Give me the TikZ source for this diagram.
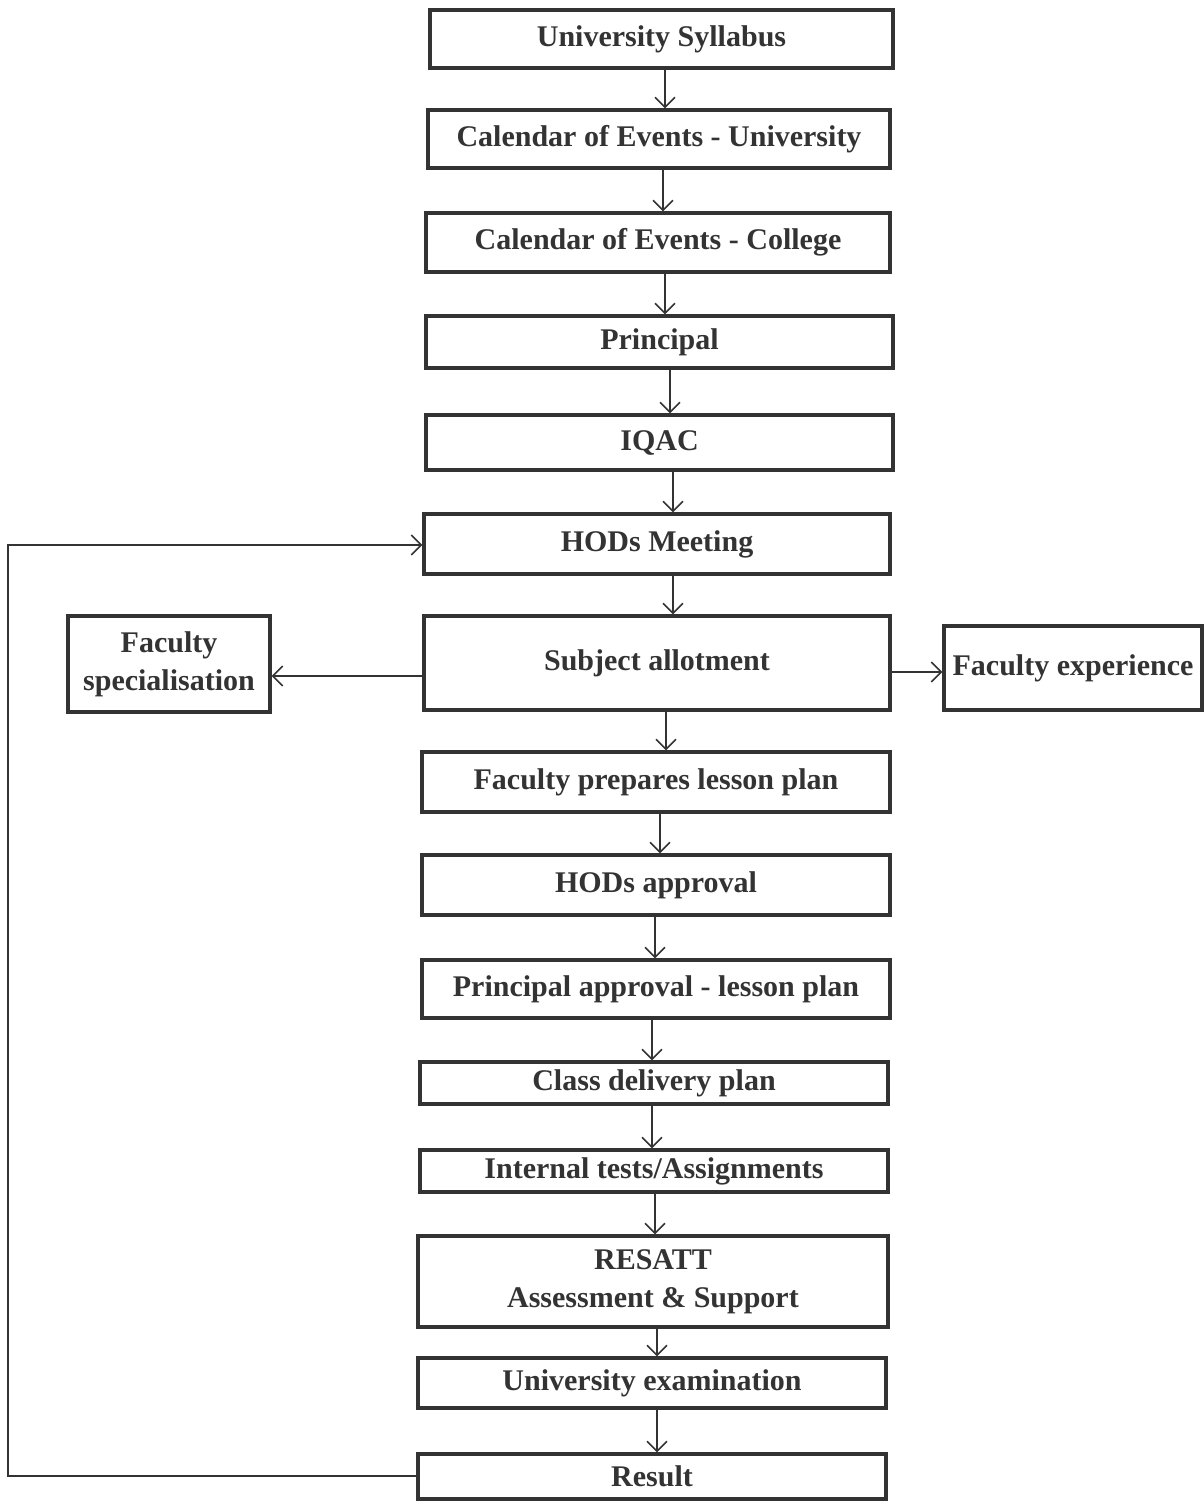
\documentclass[tikz,border=0pt]{standalone}
\usepackage{fontspec}
\setmainfont{Liberation Serif}
\usetikzlibrary{arrows.meta}
\definecolor{ink}{HTML}{333333}
\begin{document}
\begin{tikzpicture}[x=1pt,y=-1pt,
  box/.style={draw=ink, line width=3.2pt, text=ink, font=\fontsize{30}{38}\selectfont\bfseries, align=center, inner sep=0pt},
  arr/.style={draw=ink, line width=2pt, -{Straight Barb[length=10pt,width=20pt,line width=1.6pt]}}]
\useasboundingbox (0,0) rectangle (1204,1501);
\fill[white] (0,0) rectangle (1204,1501);
\node[box, minimum width=463pt, minimum height=58pt] (us) at (661.5,39) {University Syllabus};
\node[box, minimum width=462pt, minimum height=58pt] (ceu) at (659,139) {Calendar of Events - University};
\node[box, minimum width=464pt, minimum height=59pt] (cec) at (658,242.5) {Calendar of Events - College};
\node[box, minimum width=467pt, minimum height=52pt] (pr) at (659.5,342) {Principal};
\node[box, minimum width=467pt, minimum height=55pt] (iqac) at (659.5,442.5) {IQAC};
\node[box, minimum width=466pt, minimum height=60pt] (hod) at (657,544) {HODs Meeting};
\node[box, minimum width=466pt, minimum height=94pt] (sa) at (657,663) {Subject allotment};
\node[box, minimum width=202pt, minimum height=96pt] (fs) at (169,664) {Faculty\\specialisation};
\node[box, minimum width=258pt, minimum height=84pt] (fe) at (1073,668) {Faculty experience};
\node[box, minimum width=468pt, minimum height=60pt] (flp) at (656,782) {Faculty prepares lesson plan};
\node[box, minimum width=468pt, minimum height=60pt] (hoda) at (656,885) {HODs approval};
\node[box, minimum width=468pt, minimum height=58pt] (pa) at (656,989) {Principal approval - lesson plan};
\node[box, minimum width=468pt, minimum height=42pt] (cdp) at (654,1083) {Class delivery plan};
\node[box, minimum width=468pt, minimum height=42pt] (it) at (654,1171) {Internal tests/Assignments};
\node[box, minimum width=470pt, minimum height=91pt] (res) at (653,1281.5) {RESATT\\Assessment \& Support};
\node[box, minimum width=468pt, minimum height=50pt] (ue) at (652,1383) {University examination};
\node[box, minimum width=468pt, minimum height=45pt] (rs) at (652,1476.5) {Result};
\foreach \a/\b/\xx in {us/ceu/665, ceu/cec/663, cec/pr/665, pr/iqac/670, iqac/hod/673, hod/sa/673, sa/flp/666, flp/hoda/660, hoda/pa/655, pa/cdp/652, cdp/it/652, it/res/655, res/ue/657, ue/rs/657}
  \draw[arr] (\a.south -| \xx,0) -- (\b.north -| \xx,0);
\draw[arr] (sa.west |- 0,676) -- (fs.east |- 0,676);
\draw[arr] (sa.east |- 0,672) -- (fe.west |- 0,672);
\coordinate (lb) at (8,1476);
\coordinate (lt) at (8,545);
\draw[arr] (rs.west |- lb) -- (lb) -- (lt) -- (hod.west |- lt);
\end{tikzpicture}
\end{document}
